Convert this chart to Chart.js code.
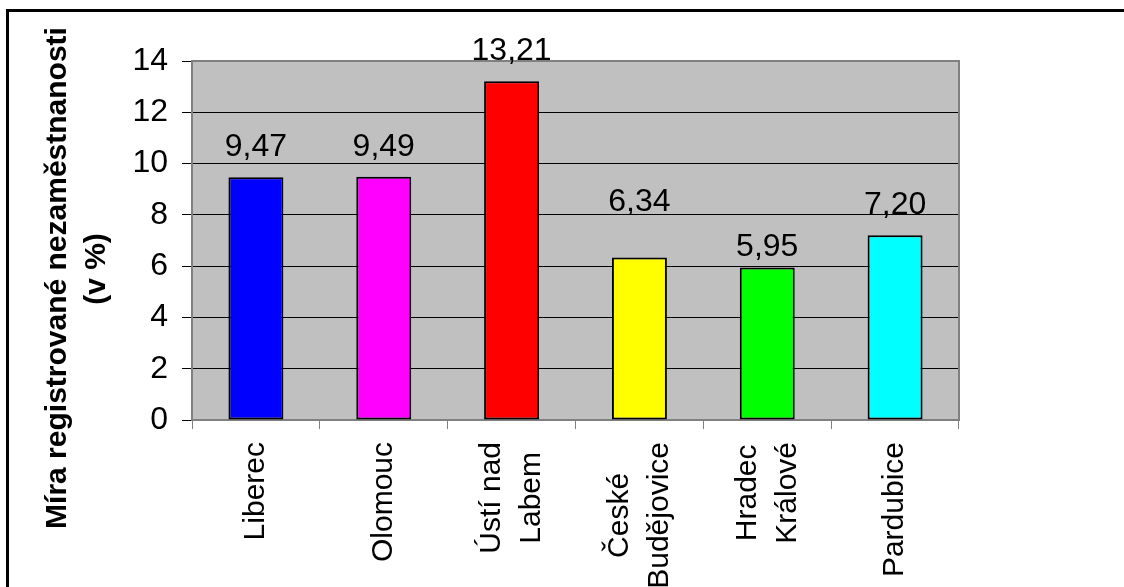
<!DOCTYPE html>
<html>
<head>
<meta charset="utf-8">
<title>Míra registrované nezaměstnanosti</title>
<script src="https://cdn.jsdelivr.net/npm/chart.js@4.4.1/dist/chart.umd.min.js"></script>
<style>
  html, body { margin: 0; padding: 0; background: #fff; overflow: hidden; }
  #wrap { position: relative; width: 1124px; height: 587px; overflow: hidden; }
  #frame { position: absolute; left: 6px; top: 9px; width: 1200px; height: 700px; border: 3px solid #000; }
  #chart { position: absolute; left: 0; top: 0; }
</style>
</head>
<body>
<div id="wrap">
  <div id="frame"></div>
  <canvas id="chart" width="1124" height="587"></canvas>
</div>
<script>
// regions (multi-line labels as arrays)
const regions = [
  ["Liberec"],
  ["Olomouc"],
  ["Ústí nad", "Labem"],
  ["České", "Budějovice"],
  ["Hradec", "Králové"],
  ["Pardubice"],
];
// unemployment rate in %
const unemployment = [9.47, 9.49, 13.21, 6.34, 5.95, 7.20];
const yTitle = ["Míra registrované nezaměstnanosti", "(v %)"];

const barColors = ["#0000ff", "#ff00ff", "#ff0000", "#ffff00", "#00ff00", "#00ffff"];
const FONT = '"Liberation Sans", Arial, sans-serif';

const plotPlugin = {
  id: "plotStyle",
  beforeDraw(chart) {
    const { ctx, chartArea: a } = chart;
    ctx.save();
    ctx.fillStyle = "#c0c0c0";
    ctx.fillRect(a.left, a.top, a.right - a.left, a.bottom - a.top);
    ctx.restore();
  },
  beforeDatasetsDraw(chart) {
    const { ctx, chartArea: a } = chart;
    ctx.save();
    ctx.strokeStyle = "#808080";
    ctx.lineWidth = 2;
    ctx.beginPath();
    ctx.moveTo(a.left, a.top);
    ctx.lineTo(a.right, a.top);
    ctx.lineTo(a.right, a.bottom);
    ctx.stroke();
    ctx.restore();
  },
  afterDraw(chart, args, opts) {
    const { ctx } = chart;
    const xs = chart.scales.x;
    const meta = chart.getDatasetMeta(0);
    ctx.save();
    ctx.fillStyle = "#000";

    // value labels above bars (decimal comma)
    ctx.font = "32px " + FONT;
    ctx.textAlign = "center";
    ctx.textBaseline = "alphabetic";
    meta.data.forEach((bar, i) => {
      const txt = unemployment[i].toFixed(2).replace(".", ",");
      ctx.fillText(txt, bar.x, bar.y - 21 + (opts.nudge[i] || 0));
    });

    // category labels, rotated, lines centred on each other
    ctx.font = "30px " + FONT;
    ctx.textBaseline = "middle";
    const lh = 40;
    regions.forEach((lines, i) => {
      const cx = xs.getPixelForValue(i);
      const w = Math.max(...lines.map(l => ctx.measureText(l).width));
      lines.forEach((line, j) => {
        ctx.save();
        ctx.translate(cx + (j - (lines.length - 1) / 2) * lh, 442 + w / 2);
        ctx.rotate(-Math.PI / 2);
        ctx.fillText(line, 0, 0);
        ctx.restore();
      });
    });

    // y axis title
    ctx.font = "bold 30px " + FONT;
    const titlePos = [[58, 278], [97, 269]];
    yTitle.forEach((line, j) => {
      ctx.save();
      ctx.translate(titlePos[j][0], titlePos[j][1]);
      ctx.rotate(-Math.PI / 2);
      ctx.fillText(line, 0, 0);
      ctx.restore();
    });
    ctx.restore();
  },
};

const ctx = document.getElementById("chart").getContext("2d");
new Chart(ctx, {
  type: "bar",
  data: {
    labels: regions,
    datasets: [
      {
        data: unemployment,
        backgroundColor: barColors,
        borderColor: "#000",
        borderWidth: 2,
        borderSkipped: false,
        barPercentage: 0.43,
        categoryPercentage: 1,
      },
    ],
  },
  options: {
    responsive: false,
    animation: false,
    devicePixelRatio: 1,
    layout: { padding: { top: 61, right: 165, left: 0, bottom: 0 } },
    plugins: {
      legend: { display: false },
      tooltip: { enabled: false },
      plotStyle: { nudge: [0, 0, 0, -25, 10, 0] },
    },
    scales: {
      x: {
        ticks: { display: false },
        grid: {
          offset: true,
          drawOnChartArea: false,
          color: "#808080",
          tickLength: 9,
        },
        border: { color: "#808080", width: 2 },
        afterFit: (s) => { s.height = 167; },
      },
      y: {
        min: 0,
        max: 14,
        ticks: {
          stepSize: 2,
          color: "#000",
          padding: 14,
          font: { family: FONT, size: 32 },
        },
        grid: {
          color: (c) => (c.tick.value === 0 || c.tick.value === 14 ? "#808080" : "#000"),
          tickColor: "#000",
          tickLength: 10,
        },
        border: { color: "#808080", width: 2 },
        afterFit: (s) => { s.width = 192; },
      },
    },
  },
  plugins: [plotPlugin],
});
</script>
</body>
</html>
